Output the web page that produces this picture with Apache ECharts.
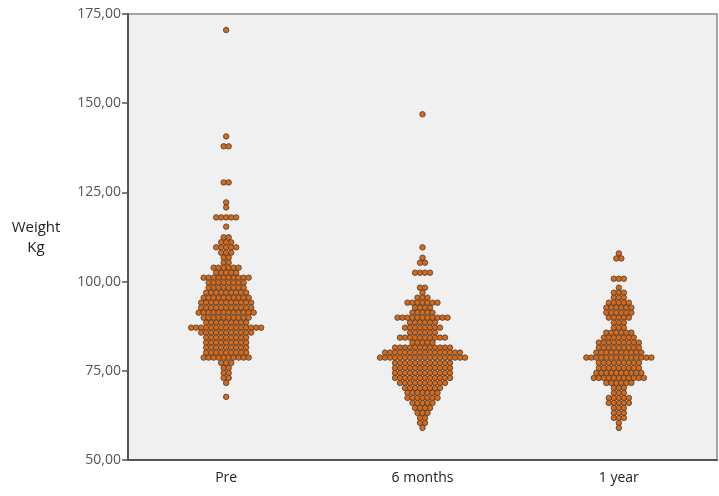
<!DOCTYPE html>
<html>
<head>
<meta charset="utf-8">
<script src="https://cdn.jsdelivr.net/npm/echarts@6/dist/echarts.min.js"></script>
<style>
  html, body { margin: 0; padding: 0; background: #fff; }
  #chart { width: 719px; height: 496px; }
</style>
</head>
<body>
<div id="chart"></div>
<script>
const categories = ['Pre', '6 months', '1 year']

// each row of the dot plot: weight (kg) and how many dots sit in it
const preWeights = [170.5, 140.7, 137.9, 127.8, 122.2, 120.8, 118.0, 115.4, 112.4, 111.0,
  109.6, 108.1, 106.7, 105.3, 103.9, 102.5, 101.1, 99.7, 98.3, 96.9,
  95.5, 94.1, 92.7, 91.3, 89.9, 88.5, 87.1, 85.7, 84.3, 82.9,
  81.5, 80.1, 78.7, 77.2, 75.8, 74.4, 73.0, 71.6, 67.7]
const preCounts = [1, 1, 2, 2, 1, 1, 5, 1, 2, 3,
  5, 3, 2, 2, 6, 5, 10, 8, 8, 9,
  10, 11, 11, 12, 10, 9, 15, 11, 9, 9,
  9, 9, 10, 3, 2, 2, 2, 1, 1]

const sixWeights = [146.9, 109.6, 106.7, 105.3, 102.5, 98.3, 96.9, 95.5, 94.1, 92.7,
  91.3, 89.9, 88.5, 87.1, 85.7, 84.3, 82.9, 81.5, 80.1, 78.7,
  77.2, 75.8, 74.4, 73.0, 71.6, 70.2, 68.8, 67.4, 66.0, 64.6,
  63.2, 61.8, 60.4, 59.0]
const sixCounts = [1, 1, 1, 2, 4, 2, 1, 3, 7, 4,
  5, 11, 6, 8, 6, 10, 5, 12, 16, 18,
  12, 12, 12, 12, 10, 8, 7, 7, 5, 4,
  3, 2, 2, 1]

const yearWeights = [107.9, 106.5, 100.8, 98.3, 96.9, 95.5, 94.1, 92.7, 91.3, 89.9,
  88.5, 87.1, 85.7, 84.3, 82.9, 81.5, 80.1, 78.7, 77.2, 75.8,
  74.4, 73.0, 71.6, 70.2, 68.8, 67.4, 66.0, 64.6, 63.2, 61.8,
  60.4, 59.0]
const yearCounts = [1, 2, 3, 1, 3, 3, 5, 6, 6, 5,
  3, 3, 6, 7, 9, 9, 10, 14, 9, 9,
  10, 11, 6, 3, 3, 5, 5, 3, 3, 3,
  1, 1]

const groups = [
  [preWeights, preCounts],
  [sixWeights, sixCounts],
  [yearWeights, yearCounts],
]

// plot area in px, dot pitch in px -> step in category units
const gridLeft = 128
const gridRight = 2
const dotPx = 5
const dotStep = dotPx / ((719 - gridLeft - gridRight) / categories.length)

// lay every row out centred on its category
const points = []
groups.forEach(([weights, counts], g) => {
  weights.forEach((w, r) => {
    const n = counts[r]
    for (let i = 0; i < n; i++) {
      points.push([g + (i - (n - 1) / 2) * dotStep, w])
    }
  })
})

const chart = echarts.init(document.getElementById('chart'))

chart.setOption({
  backgroundColor: '#ffffff',
  animation: false,
  textStyle: { fontFamily: 'Open Sans' },
  grid: {
    left: gridLeft,
    right: gridRight,
    top: 14,
    bottom: 36,
    show: true,
    backgroundColor: '#f0f0f0',
    borderColor: '#8a8a8a',
    borderWidth: 1.5,
  },
  graphic: [{
    type: 'text',
    x: 36,
    y: 218,
    style: {
      text: 'Weight\nKg',
      align: 'center',
      fill: '#222',
      font: '15px "Open Sans"',
      lineHeight: 20,
    },
  }],
  xAxis: [
    {
      type: 'category',
      data: categories,
      boundaryGap: true,
      axisLine: { lineStyle: { color: '#555', width: 2 } },
      axisTick: { alignWithLabel: true, length: 6, lineStyle: { color: '#555', width: 1.5 } },
      axisLabel: { color: '#222', fontSize: 14, margin: 11 },
      splitLine: { show: false },
    },
    {
      type: 'value',
      min: -0.5,
      max: 2.5,
      show: false,
    },
  ],
  yAxis: {
    type: 'value',
    min: 50,
    max: 175,
    interval: 25,
    axisLine: { show: true, onZero: false, lineStyle: { color: '#555', width: 2 } },
    axisTick: { show: true, length: 6, lineStyle: { color: '#555', width: 1.5 } },
    axisLabel: {
      color: '#555',
      fontSize: 14,
      margin: 7,
      formatter: (v) => v.toFixed(2).replace('.', ','),
    },
    splitLine: { show: false },
  },
  series: [{
    type: 'scatter',
    xAxisIndex: 1,
    data: points,
    symbol: 'circle',
    symbolSize: 5.5,
    itemStyle: {
      color: '#d46a1a',
      borderColor: '#4a3a30',
      borderWidth: 0.8,
      opacity: 1,
    },
  }],
})
</script>
</body>
</html>
